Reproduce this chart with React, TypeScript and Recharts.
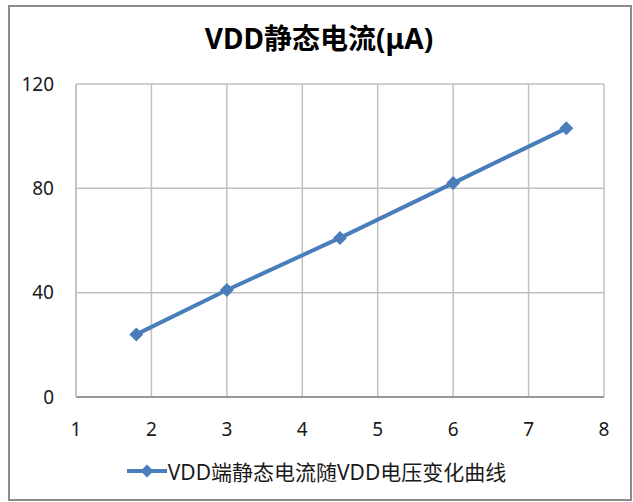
import { CartesianGrid, Legend, Line, LineChart, XAxis, YAxis } from "recharts";

const voltages = [1.8, 3, 4.5, 6, 7.5];
const currents = [24, 41, 61, 82, 103];
const xTicks = [1, 2, 3, 4, 5, 6, 7, 8];
const yTicks = [0, 40, 80, 120];

const title = "VDD静态电流(μA)";
const seriesName = "VDD端静态电流随VDD电压变化曲线";

const FONT = '"Noto Sans", "Noto Sans CJK SC", sans-serif';
const BLUE = "#4a7ebb";

const data = voltages.map((v, i) => ({ v, current: currents[i] }));

function Diamond(props: any) {
  const { cx, cy } = props;
  if (cx == null || cy == null) return null;
  const r = 7;
  return (
    <polygon
      points={`${cx},${cy - r} ${cx + r},${cy} ${cx},${cy + r} ${cx - r},${cy}`}
      fill={BLUE}
    />
  );
}

function LegendContent() {
  return (
    <div
      style={{
        display: "flex",
        alignItems: "center",
        justifyContent: "center",
        height: 28,
        fontFamily: FONT,
        fontSize: 21,
        color: "#1a1a1a",
      }}
    >
      <svg width={40} height={14} style={{ marginRight: 1 }}>
        <line x1={0} y1={7} x2={40} y2={7} stroke={BLUE} strokeWidth={4} />
        <polygon points="20,0.5 26.5,7 20,13.5 13.5,7" fill={BLUE} />
      </svg>
      <span>{seriesName}</span>
    </div>
  );
}

export default function App() {
  return (
    <div style={{ position: "absolute", left: 0, top: 0, width: 633, height: 502, background: "#fff" }}>
      <div
        style={{
          position: "absolute",
          left: 8,
          top: 5,
          width: 620,
          height: 492,
          border: "2px solid #8c8c8c",
        }}
      />
      <div
        style={{
          position: "absolute",
          left: 0,
          top: 17,
          width: 638,
          textAlign: "center",
          fontFamily: FONT,
          fontWeight: "bold",
          fontSize: 28,
          color: "#000",
        }}
      >
        {title}
      </div>
      <div style={{ position: "absolute", left: 0, top: 0 }}>
        <LineChart
          width={633}
          height={502}
          data={data}
          margin={{ top: 84, right: 29, left: 0, bottom: 0 }}
        >
          <CartesianGrid stroke="#c0c0c0" strokeWidth={1.5} />
          <XAxis
            dataKey="v"
            type="number"
            domain={[1, 8]}
            ticks={xTicks}
            height={60}
            axisLine={{ stroke: "#868686", strokeWidth: 1.5 }}
            tickLine={false}
            tickSize={0}
            tickMargin={26}
            tick={{ fill: "#1a1a1a", fontSize: 19, fontFamily: FONT }}
          />
          <YAxis
            type="number"
            domain={[0, 120]}
            ticks={yTicks}
            width={76}
            axisLine={{ stroke: "#c0c0c0", strokeWidth: 1.5 }}
            tickLine={false}
            tickSize={0}
            tickMargin={22}
            tick={{ fill: "#1a1a1a", fontSize: 19, fontFamily: FONT }}
          />
          <Legend
            verticalAlign="bottom"
            content={<LegendContent />}
            wrapperStyle={{ left: 0, width: 633, height: 45 }}
          />
          <Line
            dataKey="current"
            name={seriesName}
            stroke={BLUE}
            strokeWidth={4}
            dot={<Diamond />}
            activeDot={false}
            isAnimationActive={false}
          />
        </LineChart>
      </div>
    </div>
  );
}
